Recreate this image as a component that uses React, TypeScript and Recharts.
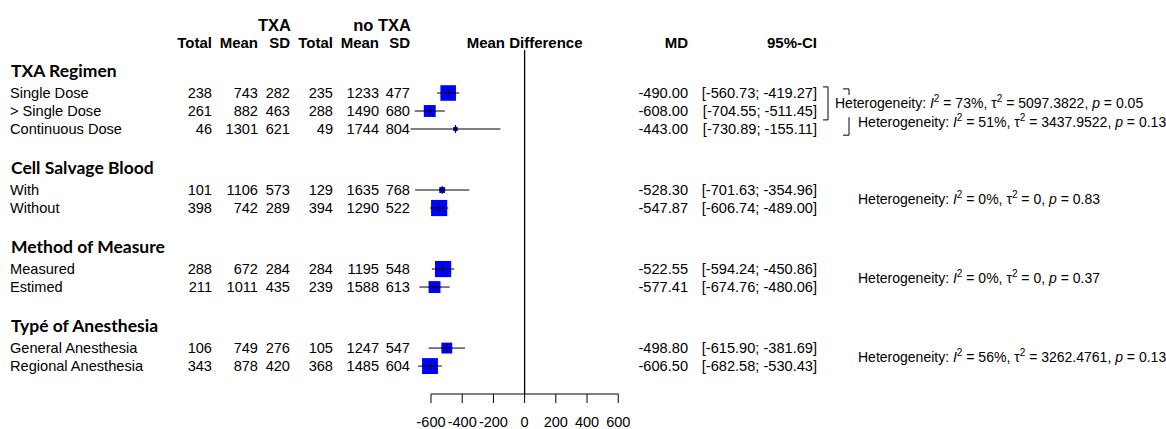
import React from 'react';
import { ScatterChart, Scatter, XAxis, YAxis, ErrorBar, ReferenceLine } from 'recharts';

// subgroups and studies
const groups = ['TXA Regimen', 'Cell Salvage Blood', 'Method of Measure', 'Typé of Anesthesia'];
const subgroupOf = [0, 0, 0, 1, 1, 2, 2, 3, 3];
const labels = [
  'Single Dose', '> Single Dose', 'Continuous Dose',
  'With', 'Without',
  'Measured', 'Estimed',
  'General Anesthesia', 'Regional Anesthesia',
];

const txaTotal = [238, 261, 46, 101, 398, 288, 211, 106, 343];
const txaMean = [743, 882, 1301, 1106, 742, 672, 1011, 749, 878];
const txaSD = [282, 463, 621, 573, 289, 284, 435, 276, 420];
const ctlTotal = [235, 288, 49, 129, 394, 284, 239, 105, 368];
const ctlMean = [1233, 1490, 1744, 1635, 1290, 1195, 1588, 1247, 1485];
const ctlSD = [477, 680, 804, 768, 522, 548, 613, 547, 604];

const md = [-490.0, -608.0, -443.0, -528.3, -547.87, -522.55, -577.41, -498.8, -606.5];
const ciLow = [-560.73, -704.55, -730.89, -701.63, -606.74, -594.24, -674.76, -615.9, -682.58];
const ciHigh = [-419.27, -511.45, -155.11, -354.96, -489.0, -450.86, -480.06, -381.69, -530.43];
// study weights (%)
const weight = [12.5, 7.3, 1.0, 1.8, 13.5, 13.5, 7.3, 6.1, 13.0];

// heterogeneity statements
const hetGroup = [0, 0, 1, 2, 3];
const hetI2 = ['73%', '51%', '0%', '0%', '56%'];
const hetTau2 = ['5097.3822', '3437.9522', '0', '0', '3262.4761'];
const hetP = ['0.05', '0.13', '0.83', '0.37', '0.13'];

const xTicks = [-600, -400, -200, 0, 200, 400, 600];

// ---- layout (in row units) ----
const GAP = 3.39;
const HEAD = 1.25;
const HET_OFFSET = [0.55, 1.62, 0.5, 0.5, 0.5];
const Y_MIN = -2.389;
const Y_MAX = 16.722;

const rowLine: number[] = [];
const headLine: number[] = [];
const firstRow: number[] = [];
let cur = 0;
groups.forEach((_, gi) => {
  const idx = subgroupOf.map((s, i) => (s === gi ? i : -1)).filter((i) => i >= 0);
  headLine.push(cur - HEAD);
  firstRow.push(cur);
  idx.forEach((i, k) => {
    rowLine[i] = cur + k;
  });
  cur += idx.length - 1 + GAP;
});
const hetLine = hetGroup.map((g, h) => firstRow[g] + HET_OFFSET[h]);

const tickItems = [
  ...headLine.map((line, g) => ({ line, kind: 'head', ref: g })),
  ...rowLine.map((line, i) => ({ line, kind: 'row', ref: i })),
  ...hetLine.map((line, h) => ({ line, kind: 'het', ref: h })),
];

const data = md.map((m, i) => ({
  md: m,
  line: rowLine[i],
  err: [m - ciLow[i], ciHigh[i] - m],
  weight: weight[i],
}));

const FONT = "'Liberation Sans', Arial, sans-serif";
const numCols = [txaTotal, txaMean, txaSD, ctlTotal, ctlMean, ctlSD];
const numRight = [212, 258, 290, 333, 379, 410];

const RowTick = (props: any) => {
  const { y, payload } = props;
  const item = tickItems.find((t) => Math.abs(t.line - payload.value) < 1e-6);
  if (!item) return <g />;
  if (item.kind === 'head') {
    return (
      <text x={11} y={y} dominantBaseline="central" fontFamily="Lato, 'Open Sans', sans-serif" fontWeight={700} fontSize={17.5} fill="#000">
        {groups[item.ref]}
      </text>
    );
  }
  if (item.kind === 'row') {
    const i = item.ref;
    return (
      <g fontFamily={FONT} fontSize={14.6} fill="#000">
        <text x={10} y={y} dominantBaseline="central">{labels[i]}</text>
        {numCols.map((col, c) => (
          <text key={c} x={numRight[c]} y={y} textAnchor="end" dominantBaseline="central">{col[i]}</text>
        ))}
        <text x={688} y={y} textAnchor="end" dominantBaseline="central">{md[i].toFixed(2)}</text>
        <text x={817} y={y} textAnchor="end" dominantBaseline="central">
          {`[${ciLow[i].toFixed(2)}; ${ciHigh[i].toFixed(2)}]`}
        </text>
      </g>
    );
  }
  const h = item.ref;
  const tx = h === 0 ? 835 : 858;
  return (
    <g>
      {h === 0 && (
        <path d={`M823,${y - 16}H828V${y + 17}H823 M843,${y - 14}H849V${y - 8}`} fill="none" stroke="#000" strokeWidth={1} />
      )}
      {h === 1 && (
        <path d={`M849,${y - 5}V${y + 13}H843`} fill="none" stroke="#000" strokeWidth={1} />
      )}
      <text x={tx} y={y} dominantBaseline="central" fontFamily={FONT} fontSize={14} fill="#000">
        <tspan>Heterogeneity: </tspan>
        <tspan fontStyle="italic">I</tspan>
        <tspan dy={-5} fontSize={10}>2</tspan>
        <tspan dy={5}>{` = ${hetI2[h]}, \u03C4`}</tspan>
        <tspan dy={-5} fontSize={10}>2</tspan>
        <tspan dy={5}>{` = ${hetTau2[h]}, `}</tspan>
        <tspan fontStyle="italic">p</tspan>
        <tspan>{` = ${hetP[h]}`}</tspan>
      </text>
    </g>
  );
};

const Box = (props: any) => {
  const { cx, cy, payload } = props;
  const s = 4.4 * Math.sqrt(payload.weight);
  return (
    <g>
      <rect x={cx - s / 2} y={cy - s / 2} width={s} height={s} fill="#0000ff" />
      <line x1={cx - s / 2} x2={cx + s / 2} y1={cy} y2={cy} stroke="#000" strokeWidth={1} />
      <line x1={cx} x2={cx} y1={cy - 4} y2={cy + 4} stroke="#000" strokeWidth={1} />
    </g>
  );
};

const Header = () => (
  <svg width={1166} height={60} style={{ position: 'absolute', left: 0, top: 0, pointerEvents: 'none' }}>
    <g fontFamily={FONT} fontWeight={700} fill="#000">
      <text x={291} y={24.5} textAnchor="end" dominantBaseline="central" fontSize={16.5}>TXA</text>
      <text x={411} y={24.5} textAnchor="end" dominantBaseline="central" fontSize={16.5}>no TXA</text>
      {['Total', 'Mean', 'SD', 'Total', 'Mean', 'SD'].map((t, c) => (
        <text key={c} x={numRight[c]} y={42.5} textAnchor="end" dominantBaseline="central" fontSize={15}>{t}</text>
      ))}
      <text x={524.6} y={42.5} textAnchor="middle" dominantBaseline="central" fontSize={15}>Mean Difference</text>
      <text x={688} y={42.5} textAnchor="end" dominantBaseline="central" fontSize={15}>MD</text>
      <text x={817} y={42.5} textAnchor="end" dominantBaseline="central" fontSize={15}>95%-CI</text>
    </g>
  </svg>
);

export default function App() {
  return (
    <div style={{ position: 'absolute', left: 0, top: 0, width: 1166, height: 429, background: '#fff' }}>
      <ScatterChart width={1166} height={429} margin={{ top: 50, right: 524.35, bottom: 0, left: 406.6 }}>
        <XAxis
          type="number"
          dataKey="md"
          domain={[-750, 750]}
          ticks={xTicks}
          interval={0}
          axisLine={false}
          tickLine={{ stroke: '#000' }}
          tickSize={9}
          tickMargin={14}
          height={35}
          tick={{ fill: '#000', fontSize: 14.5, fontFamily: FONT }}
        />
        <YAxis
          type="number"
          dataKey="line"
          domain={[Y_MIN, Y_MAX]}
          reversed
          width={1}
          ticks={tickItems.map((t) => t.line)}
          interval={0}
          axisLine={false}
          tickLine={false}
          tick={(p: any) => <RowTick {...p} />}
        />
        <ReferenceLine x={0} stroke="#000" strokeWidth={1.3} ifOverflow="visible" />
        <ReferenceLine
          segment={[{ x: -600, y: Y_MAX }, { x: 600, y: Y_MAX }]}
          stroke="#000"
          strokeWidth={1}
          ifOverflow="visible"
        />
        <Scatter data={data} shape={<Box />} isAnimationActive={false}>
          <ErrorBar dataKey="err" direction="x" width={0} stroke="#000" strokeWidth={1} />
        </Scatter>
      </ScatterChart>
      <Header />
    </div>
  );
}
